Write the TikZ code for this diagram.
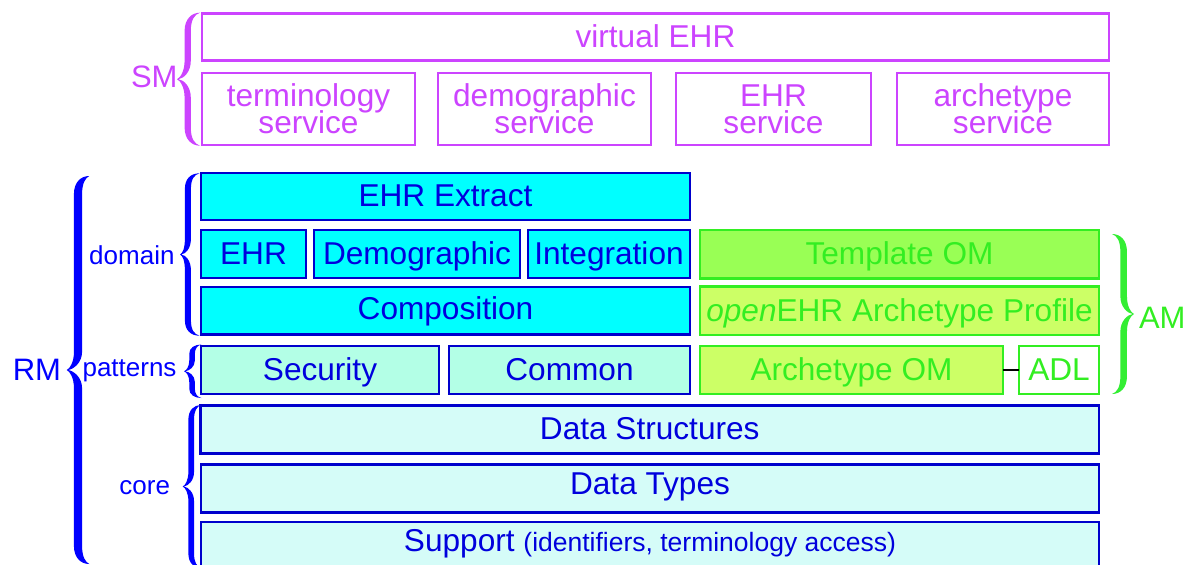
\documentclass[tikz,border=0pt]{standalone}
\usepackage{fontspec}
\setmainfont{Liberation Sans}
\definecolor{smc}{RGB}{204,68,255}
\definecolor{rmb}{RGB}{0,0,204}
\definecolor{rmt}{RGB}{0,0,221}
\definecolor{lblb}{RGB}{0,0,255}
\definecolor{cyanf}{RGB}{0,255,255}
\definecolor{patf}{RGB}{179,255,230}
\definecolor{coref}{RGB}{213,252,248}
\definecolor{amg}{RGB}{51,238,34}
\definecolor{amb}{RGB}{51,238,51}
\definecolor{tomf}{RGB}{153,255,85}
\definecolor{aomf}{RGB}{204,255,102}
\newcommand\tightlines{\lineskiplimit=-100pt\relax}

% filled brace: #1 colour, #2 tip x, #3 back x, #4 top y, #5 bottom y, #6 outer arm frac, #7 inner arm frac
\newcommand\drawbrace[7]{%
\begingroup
\pgfmathsetmacro\brW{#3-#2}%
\pgfmathsetmacro\brM{(#4+#5)/2}%
\pgfmathsetmacro\brH{(#5-#4)/2}%
\pgfmathsetmacro\brA{#2+#6*\brW}%
\pgfmathsetmacro\brC{#2+#7*\brW}%
\pgfmathsetmacro\brE{min(0.8*abs(\brW),0.35*\brH)}%
\pgfmathsetmacro\brT{min(0.8*abs(\brW),0.4*\brH)}%
\fill[#1] (#3,#4)
 .. controls ({\brA+0.3*\brW},#4) and (\brA,{#4+0.35*\brE}) .. (\brA,{#4+\brE})
 -- (\brA,{\brM-\brT})
 .. controls (\brA,{\brM-0.45*\brT}) and ({#2+0.15*\brW},{\brM-0.08*\brT}) .. (#2,\brM)
 .. controls ({#2+0.15*\brW},{\brM+0.08*\brT}) and (\brA,{\brM+0.45*\brT}) .. (\brA,{\brM+\brT})
 -- (\brA,{#5-\brE})
 .. controls (\brA,{#5-0.35*\brE}) and ({\brA+0.3*\brW},#5) .. (#3,#5)
 .. controls ({\brC+0.15*\brW},{#5-0.1*\brE}) and (\brC,{#5-0.4*\brE}) .. (\brC,{#5-\brE})
 -- (\brC,{\brM+\brT})
 .. controls (\brC,{\brM+0.4*\brT}) and ({#2+0.3*\brW},{\brM+0.04*\brT}) .. ({#2+0.06*\brW},\brM)
 .. controls ({#2+0.3*\brW},{\brM-0.04*\brT}) and (\brC,{\brM-0.4*\brT}) .. (\brC,{\brM-\brT})
 -- (\brC,{#4+\brE})
 .. controls (\brC,{#4+0.4*\brE}) and ({\brC+0.15*\brW},{#4+0.1*\brE}) .. (#3,#4) -- cycle;
\endgroup}

\begin{document}
\begin{tikzpicture}[x=1pt,y=-1pt,
  box/.style={rectangle, inner sep=0pt, outer sep=0pt, line width=2.4pt,
    text height=22.6pt, text depth=2pt, font=\fontsize{31.6}{27}\selectfont},
  smone/.style={box, draw=smc, fill=white, text=smc},
  smbox/.style={rectangle, inner sep=0pt, outer sep=0pt, line width=2.4pt,
    draw=smc, fill=white, text=smc, align=center,
    font=\fontsize{31.6}{27}\selectfont\tightlines},
  rmbox/.style={box, draw=rmb, fill=cyanf, text=rmt},
  patbox/.style={box, draw=rmb, fill=patf, text=rmt},
  corebox/.style={box, draw=rmb, fill=coref, text=rmt},
  ambox/.style={box, draw=amg, fill=aomf, text=amg},
  lbl/.style={inner sep=0pt, outer sep=0pt, font=\fontsize{26}{30}\selectfont, text=lblb},
  biglbl/.style={inner sep=0pt, outer sep=0pt, font=\fontsize{31}{34}\selectfont}
]
\useasboundingbox (0,0) rectangle (1192,565);
\clip (0,0) rectangle (1192,565);

% ---------- SM ----------
\node[smone, minimum width=907pt, minimum height=47pt] (vehr) at (655.5,37) {virtual EHR};
\node[smbox, minimum width=213pt, minimum height=72pt] (term) at (308.5,109) {terminology\\service};
\node[smbox, minimum width=213pt, minimum height=72pt] (demos) at (544.5,109) {demographic\\service};
\node[smbox, minimum width=195pt, minimum height=72pt] (ehrs) at (773.5,109) {EHR\\service};
\node[smbox, minimum width=212pt, minimum height=72pt] (archs) at (1003,109) {archetype\\service};
\drawbrace{smc}{177}{200}{12.7}{145.7}{0.33}{0.6}
\node[biglbl, text=smc, anchor=base east] (sm) at (177.5,87.3) {SM};

% ---------- RM ----------
\node[rmbox, minimum width=489pt, minimum height=47pt] (extract) at (445.5,196.5) {EHR Extract};
\node[rmbox, minimum width=105pt, minimum height=48pt] (ehr) at (253.5,254) {EHR};
\node[rmbox, minimum width=206pt, minimum height=48pt] (demog) at (417,254) {Demographic};
\node[rmbox, minimum width=162pt, minimum height=48pt] (integ) at (609,254) {Integration};
\node[rmbox, minimum width=489pt, minimum height=47.5pt, text depth=5pt] (comp) at (445.5,310.8) {Composition};
\node[patbox, minimum width=238pt, minimum height=48pt] (sec) at (320,370) {Security};
\node[patbox, minimum width=241pt, minimum height=48pt] (common) at (569.5,370) {Common};
\node[corebox, minimum width=898.5pt, minimum height=48pt] (dstruct) at (649.75,429.3) {Data Structures};
\node[corebox, minimum width=898pt, minimum height=48pt, text depth=11pt] (dtypes) at (650,488.3) {Data Types};
\node[corebox, minimum width=898pt, minimum height=48pt, text depth=12pt] (support) at (650,546) {Support {\fontsize{26.5}{30}\selectfont(identifiers, terminology access)}};

\drawbrace{lblb}{180}{199.5}{173.3}{335.7}{0.25}{0.56}
\drawbrace{lblb}{184}{201.5}{344.5}{398}{0.3}{0.62}
\drawbrace{lblb}{182.7}{201}{405}{568}{0.31}{0.62}
\drawbrace{lblb}{66.7}{89.3}{176}{564}{0.32}{0.68}
\node[lbl, anchor=base east] (domain) at (174.5,264.3) {domain};
\node[lbl, anchor=base east] (patterns) at (176.5,376.7) {patterns};
\node[lbl, anchor=base east] (core) at (170,494) {core};
\node[biglbl, text=lblb, anchor=base east] (rm) at (61,380) {RM};

% ---------- AM ----------
\node[ambox, fill=tomf, minimum width=399pt, minimum height=48.7pt] (tom) at (899.5,254.3) {Template OM};
\node[ambox, minimum width=399pt, minimum height=48.3pt] (prof) at (899.5,310.8) {\textit{open}EHR Archetype Profile};
\node[ambox, minimum width=303pt, minimum height=48pt] (aom) at (851.5,370) {Archetype OM};
\node[ambox, fill=white, minimum width=80pt, minimum height=48pt] (adl) at (1059,370) {ADL};
\draw[black, line width=2pt] (aom.east) -- (adl.west);
\drawbrace{amb}{1134}{1112}{234}{394}{0.32}{0.62}
\node[biglbl, text=amg, anchor=base west] (am) at (1139,328) {AM};
\end{tikzpicture}
\end{document}
